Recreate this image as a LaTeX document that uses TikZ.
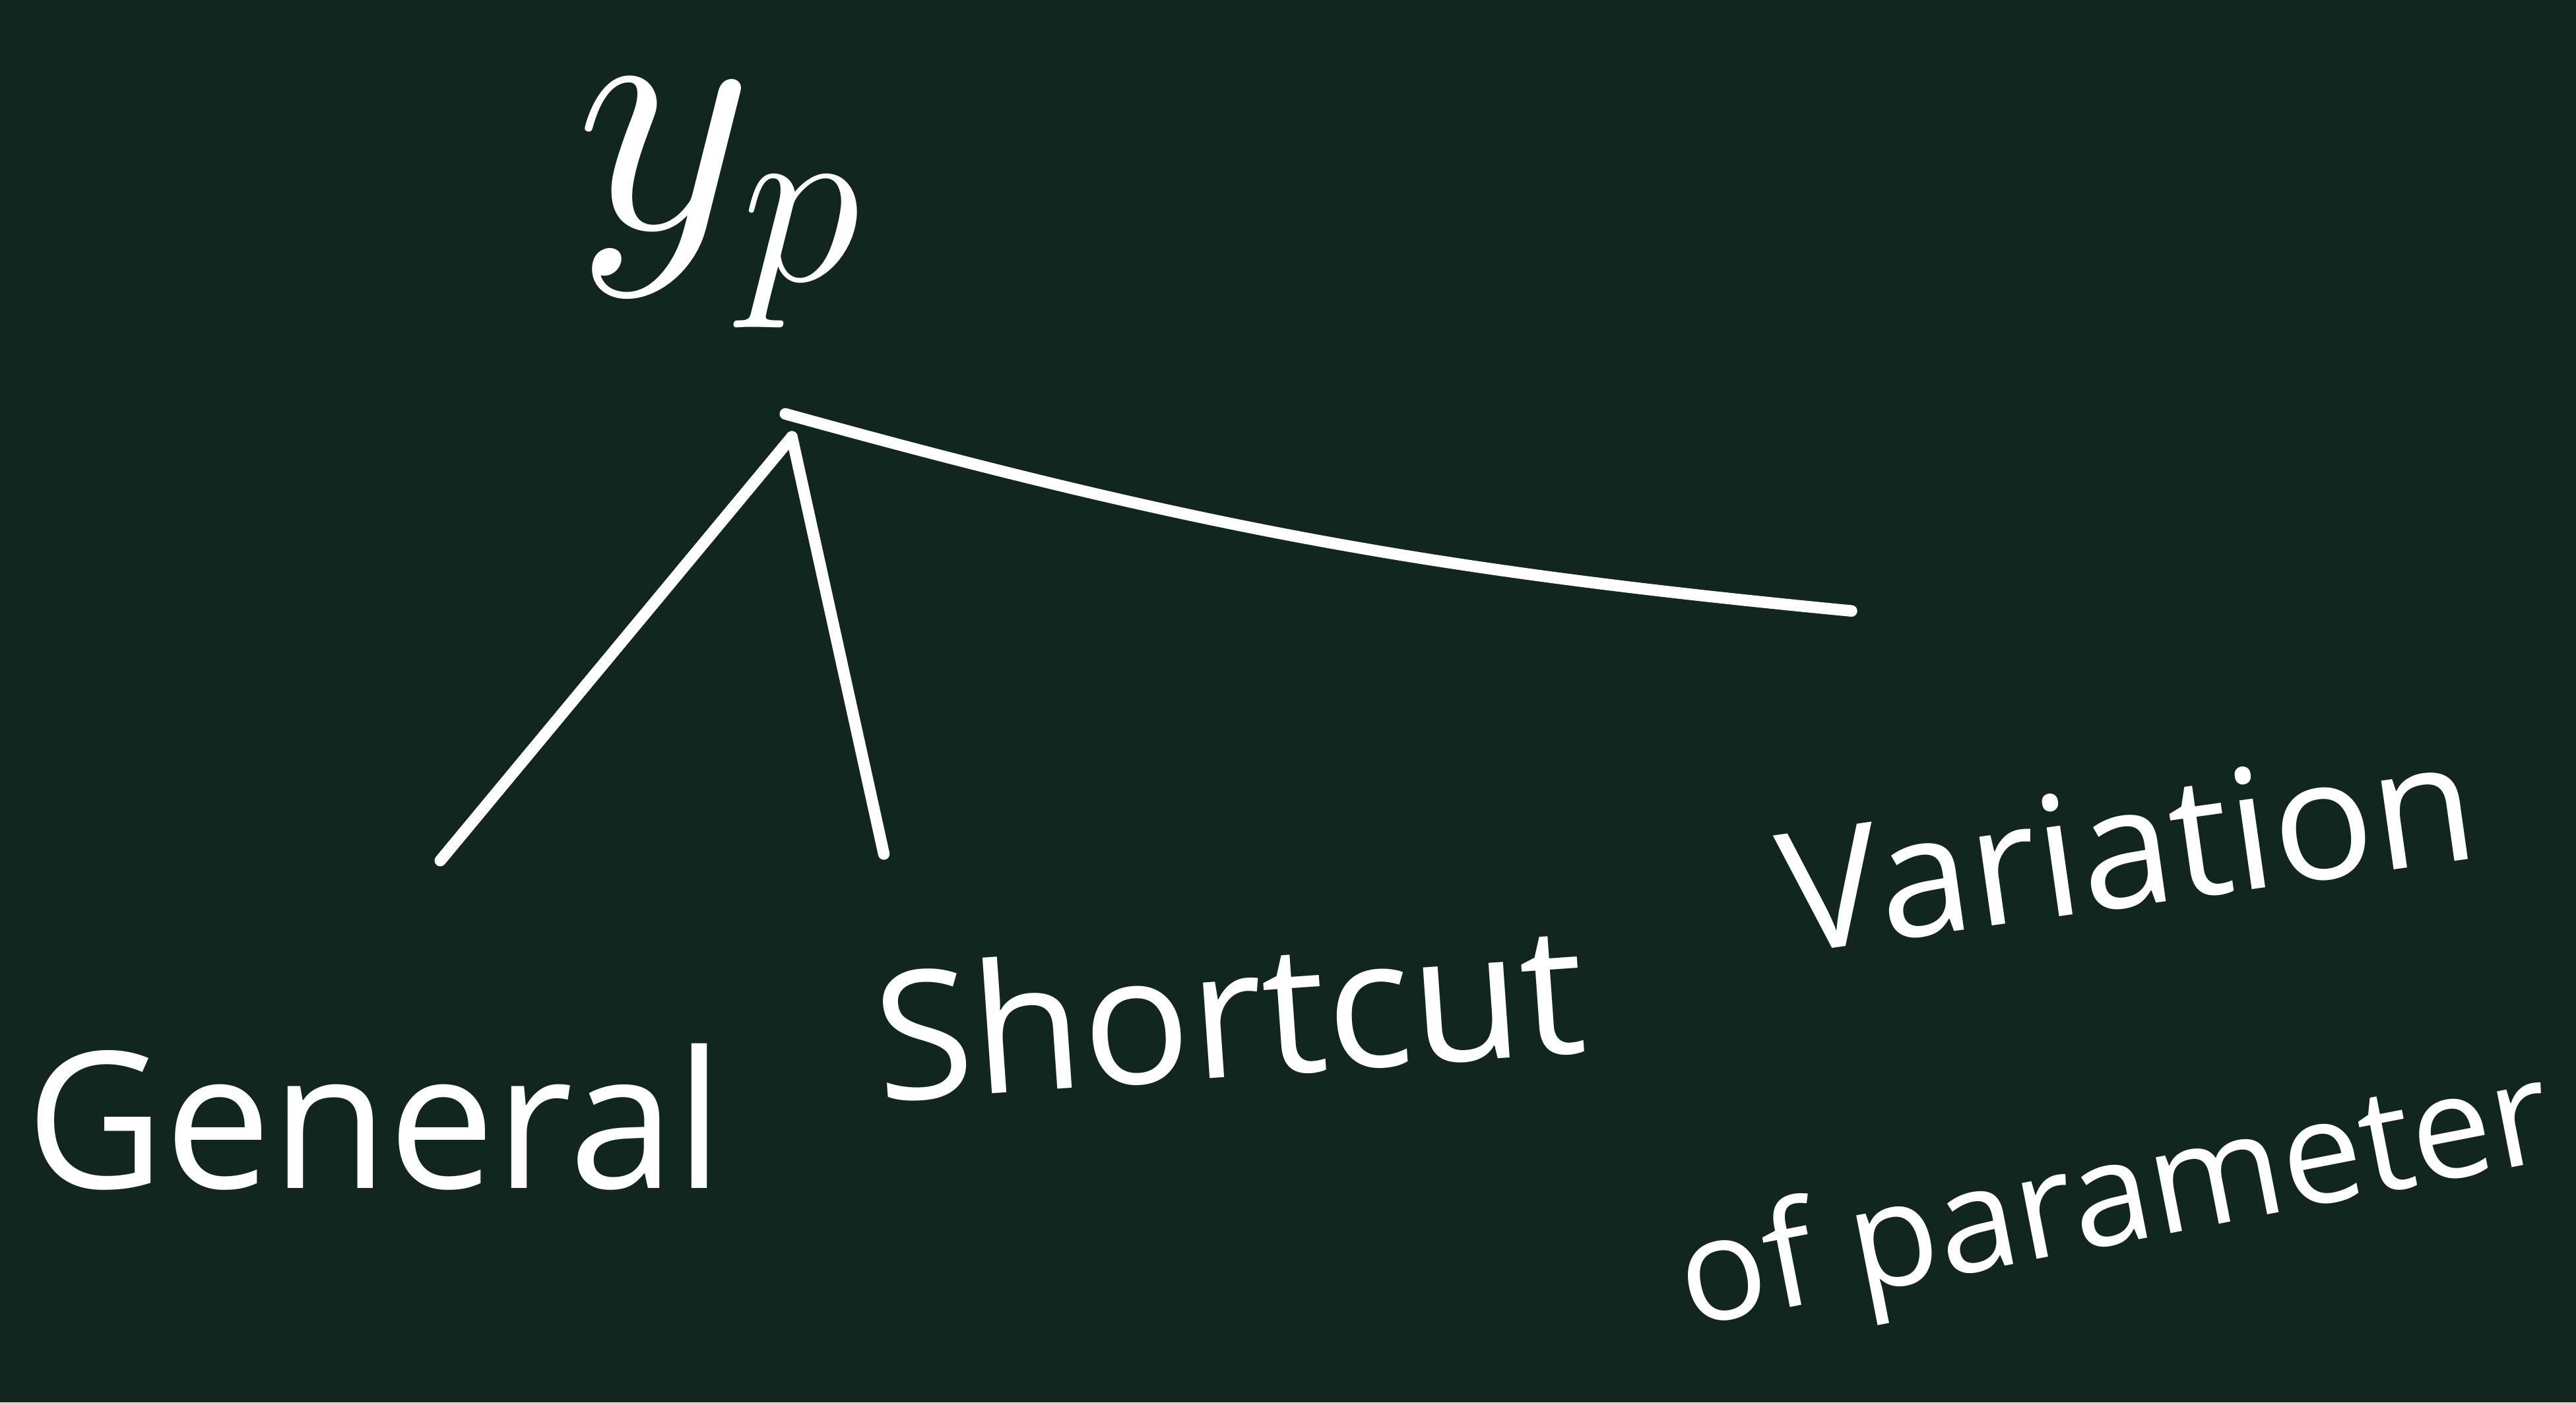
\RequirePackage{fix-cm}
\documentclass[tikz,border=0pt]{standalone}
\usepackage{fontspec}
\setmainfont{Open Sans}
\usepackage{xcolor}
\usepackage{tikz}
\usetikzlibrary{positioning, calc}
\usepackage{amsmath}
\definecolor{board}{HTML}{122620}

\begin{document}
\begin{tikzpicture}[
    chalk/.style={draw=white, line width=2pt, line cap=round},
    word/.style={text=white, inner sep=0pt, font=\fontsize{33}{40}\selectfont},
  ]
    % blackboard
    \fill[board] (0,0) rectangle (15.68,8.54);
    \useasboundingbox (0,0) rectangle (15.68,8.54);

    % particular solution
    \node[text=white, inner sep=0pt, font=\fontsize{60}{70}\selectfont] (yp) at (4.38,7.30) {$y_p$};
    \coordinate (root) at (4.82,5.88);
    \coordinate (top) at (4.78,6.02);

    % three methods
    \coordinate (genend) at (2.68,3.30);
    \coordinate (shortend) at (5.38,3.34);
    \coordinate (varend) at (11.27,4.82);
    \node[word] (gen) at (2.28,1.74) {General};
    \node[word, rotate=4, font=\fontsize{31}{36}\selectfont] (short) at (7.48,2.39) {Shortcut};
    \node[word, rotate=8, font=\fontsize{29}{34}\selectfont] (var) at (12.95,3.39) {Variation};
    \node[word, rotate=11, font=\fontsize{25}{30}\selectfont] (param) at (12.88,1.20) {of parameter};

    \draw[chalk] (root) -- (genend);
    \draw[chalk] (root) -- (shortend);
    \draw[chalk] (top) to[bend right=5] (varend);
  \end{tikzpicture}
\end{document}
